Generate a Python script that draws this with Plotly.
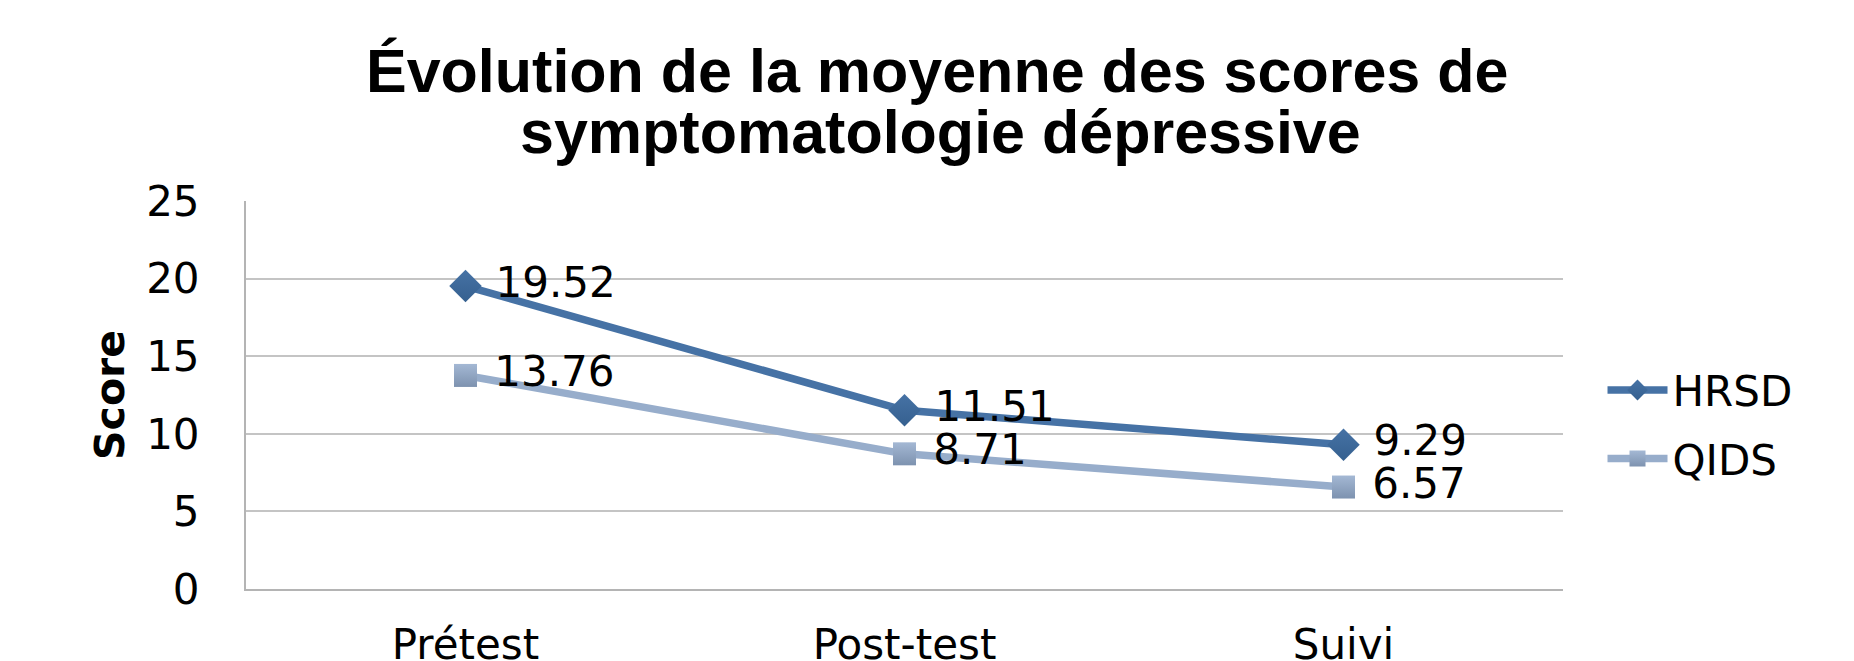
import plotly.graph_objects as go

categories = ["Prétest", "Post-test", "Suivi"]
hrsd = [19.52, 11.51, 9.29]
qids = [13.76, 8.71, 6.57]
y_ticks = [0, 5, 10, 15, 20, 25]
title_line1 = "Évolution de la moyenne des scores de"
title_line2 = "symptomatologie dépressive"
y_title = "Score"

HRSD_COLOR = "#4672A5"
QIDS_COLOR = "#97ADCB"
FONT = "DejaVu Sans"
NB = "\u00a0"

fig = go.Figure()
fig.add_trace(go.Scatter(
    x=categories, y=hrsd, name="HRSD", mode="lines+markers+text",
    line=dict(color=HRSD_COLOR, width=7.5),
    marker=dict(symbol="diamond", size=25, color=HRSD_COLOR,
                gradient=dict(type="vertical", color="#35608F")),
    text=[NB + f"{v:.2f}" for v in hrsd], textposition="middle right",
    textfont=dict(family=FONT, size=42, color="black"),
    legendgroup="a", cliponaxis=False,
))
fig.add_trace(go.Scatter(
    x=categories, y=qids, name="QIDS", mode="lines+markers+text",
    line=dict(color=QIDS_COLOR, width=7.5),
    marker=dict(symbol="square", size=23, color="#A4B8D4",
                gradient=dict(type="vertical", color="#7D92AF")),
    text=[NB + f"{v:.2f}" for v in qids], textposition="middle right",
    textfont=dict(family=FONT, size=42, color="black"),
    legendgroup="b", cliponaxis=False,
))

fig.update_layout(
    width=1846, height=653,
    margin=dict(l=238, r=291, t=193, b=72, autoexpand=False),
    paper_bgcolor="white", plot_bgcolor="white",
    font=dict(family=FONT, size=42, color="black"),
    showlegend=True,
    legend=dict(x=1.03, y=0.6, xanchor="left", yanchor="top",
                font=dict(family=FONT, size=42, color="black"),
                traceorder="grouped", tracegroupgap=11, itemwidth=60,
                bgcolor="rgba(0,0,0,0)"),
    annotations=[
        dict(text=f"<b>{title_line1}</b>", x=0.5247, y=1.335, xref="paper", yref="paper",
             xanchor="center", yanchor="middle", showarrow=False,
             font=dict(family="Liberation Sans", size=61, color="black")),
        dict(text=f"<b>{title_line2}</b>", x=0.527, y=1.178, xref="paper", yref="paper",
             xanchor="center", yanchor="middle", showarrow=False,
             font=dict(family="Liberation Sans", size=61, color="black")),
        dict(text=f"<b>{y_title}</b>", x=-0.1033, y=0.5, xref="paper", yref="paper",
             xanchor="center", yanchor="middle", showarrow=False, textangle=-90,
             font=dict(family=FONT, size=41, color="black")),
    ],
)
fig.update_xaxes(
    type="category", range=[-0.5, 2.5], automargin=False,
    showline=True, linecolor="#B4B4B4", linewidth=2,
    showgrid=False, ticks="", ticklabelstandoff=18,
    tickfont=dict(family=FONT, size=42, color="black"),
)
fig.update_yaxes(
    range=[0, 25], tickvals=y_ticks, automargin=False,
    showline=True, linecolor="#B4B4B4", linewidth=2,
    showgrid=True, gridcolor="#C4C4C4", gridwidth=2,
    zeroline=False, ticks="", ticklabelstandoff=36,
    tickfont=dict(family=FONT, size=42, color="black"),
)

fig.write_html("out.html")
